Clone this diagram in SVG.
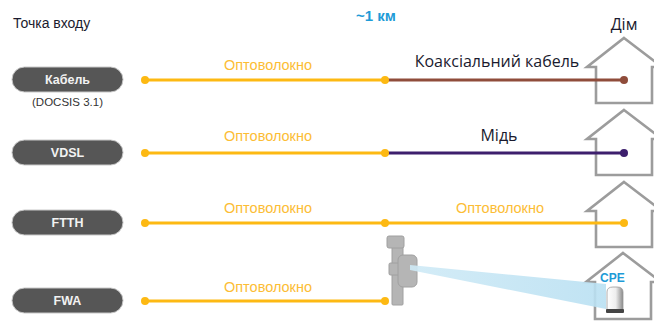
<svg xmlns="http://www.w3.org/2000/svg" width="654" height="323" viewBox="0 0 654 323">
  <defs>
    <style>
      .pill { fill: #565656; stroke: #c8c8c8; stroke-width: 1; }
      .pill-text { font-family: "Liberation Sans", Arial, sans-serif; font-size: 12.5px; font-weight: bold; fill: #f2f2f2; text-anchor: middle; }
      .label { font-family: "Liberation Sans", Arial, sans-serif; font-size: 14px; fill: #1a1a2e; }
      .wire-label { font-family: "Open Sans", "Liberation Sans", sans-serif; font-size: 16px; fill: #1a1a2e; text-anchor: middle; }
      .fiber-label { font-family: "Liberation Sans", Arial, sans-serif; font-size: 14.5px; fill: #fcbd35; text-anchor: middle; }
      .house { fill: #ffffff; stroke: #9c9c9c; stroke-width: 2.6; stroke-linejoin: miter; }
      .fiber { stroke: #fdb913; stroke-width: 3; fill: none; }
      .coax { stroke: #8f4c3b; stroke-width: 3; fill: none; }
      .copper { stroke: #3d1f6d; stroke-width: 3; fill: none; }
      .dot-fiber { fill: #fdb913; }
      .dot-coax { fill: #8f4c3b; }
      .dot-copper { fill: #3d1f6d; }
      .tower { fill: #b5b5b5; stroke: #a0a0a0; stroke-width: 1; }
    </style>
    <linearGradient id="beam" x1="0" y1="0" x2="1" y2="0">
      <stop offset="0" stop-color="#cfeaf6"/>
      <stop offset="1" stop-color="#b9e0f2"/>
    </linearGradient>
    <linearGradient id="cpeBody" x1="0" y1="0" x2="1" y2="0">
      <stop offset="0" stop-color="#ffffff"/>
      <stop offset="0.55" stop-color="#eeeeee"/>
      <stop offset="1" stop-color="#8a8a8a"/>
    </linearGradient>
  </defs>

  <rect width="654" height="323" fill="#ffffff"/>

  <!-- headings -->
  <g id="heading-entry">
    <text class="label" x="13" y="28">Точка входу</text>
  </g>
  <g id="heading-distance">
    <text x="356" y="21" font-family="Liberation Sans, Arial, sans-serif" font-size="15" font-weight="bold" fill="#1e9bd7">~1 км</text>
  </g>
  <g id="heading-home">
    <text class="wire-label" x="624" y="30">Дім</text>
  </g>

  <!-- houses -->
  <g id="house-cable">
    <path class="house" d="M624,38 L662,67 L652,67 L652,103 L596,103 L596,67 L587,67 Z"/>
  </g>
  <g id="house-vdsl">
    <path class="house" d="M624,110 L662,139 L652,139 L652,175 L596,175 L596,139 L587,139 Z"/>
  </g>
  <g id="house-ftth">
    <path class="house" d="M624,182 L662,211 L652,211 L652,247 L596,247 L596,211 L587,211 Z"/>
  </g>
  <g id="house-fwa">
    <path class="house" d="M623,253 L661,282 L651,282 L651,319 L595,319 L595,282 L586,282 Z"/>
  </g>

  <!-- access technology nodes -->
  <g id="node-cable">
    <rect class="pill" x="12" y="67" width="111" height="25" rx="12.5"/>
    <text class="pill-text" x="67.5" y="84">Кабель</text>
    <text x="67.5" y="106" font-family="Liberation Sans, Arial, sans-serif" font-size="11.5" fill="#333333" text-anchor="middle">(DOCSIS 3.1)</text>
  </g>
  <g id="node-vdsl">
    <rect class="pill" x="12" y="140" width="111" height="25" rx="12.5"/>
    <text class="pill-text" x="67.5" y="157">VDSL</text>
  </g>
  <g id="node-ftth">
    <rect class="pill" x="12" y="210" width="111" height="25" rx="12.5"/>
    <text class="pill-text" x="67.5" y="227">FTTH</text>
  </g>
  <g id="node-fwa">
    <rect class="pill" x="12" y="288" width="111" height="25" rx="12.5"/>
    <text class="pill-text" x="67.5" y="305">FWA</text>
  </g>

  <!-- connectors -->
  <g id="connectors">
    <!-- cable: fiber then coax -->
    <line class="fiber" x1="145" y1="80" x2="385" y2="80"/>
    <line class="coax" x1="385" y1="80" x2="624" y2="80"/>
    <circle class="dot-fiber" cx="145" cy="80" r="4"/>
    <circle class="dot-fiber" cx="385" cy="80" r="4"/>
    <circle class="dot-coax" cx="624" cy="80" r="4"/>

    <!-- vdsl: fiber then copper -->
    <line class="fiber" x1="145" y1="153" x2="385" y2="153"/>
    <line class="copper" x1="385" y1="153" x2="624" y2="153"/>
    <circle class="dot-fiber" cx="145" cy="153" r="4"/>
    <circle class="dot-fiber" cx="385" cy="153" r="4"/>
    <circle class="dot-copper" cx="624" cy="153" r="4"/>

    <!-- ftth: fiber all the way -->
    <line class="fiber" x1="145" y1="223" x2="624" y2="223"/>
    <circle class="dot-fiber" cx="145" cy="223" r="4"/>
    <circle class="dot-fiber" cx="385" cy="223" r="4"/>
    <circle class="dot-fiber" cx="624" cy="223" r="4"/>

    <!-- fwa: fiber to the radio site -->
    <line class="fiber" x1="145" y1="301" x2="385" y2="301"/>
    <circle class="dot-fiber" cx="145" cy="301" r="4"/>
    <circle class="dot-fiber" cx="385" cy="301" r="4"/>
  </g>

  <!-- connector labels -->
  <g id="connector-labels">
    <text class="fiber-label" x="268" y="70">Оптоволокно</text>
    <text class="wire-label" x="497" y="67">Коаксіальний кабель</text>
    <text class="fiber-label" x="268" y="141">Оптоволокно</text>
    <text class="wire-label" x="499" y="141">Мідь</text>
    <text class="fiber-label" x="268" y="213">Оптоволокно</text>
    <text class="fiber-label" x="500" y="213">Оптоволокно</text>
    <text class="fiber-label" x="268" y="292">Оптоволокно</text>
  </g>

  <!-- radio site -->
  <g id="radio-site">
    <rect class="tower" x="392" y="246" width="11" height="59" rx="1"/>
    <rect class="tower" x="387" y="236" width="17" height="12" rx="2"/>
    <rect class="tower" x="389" y="263" width="11" height="12" rx="1.5"/>
    <rect class="tower" x="398" y="255" width="19" height="32" rx="5"/>
  </g>

  <!-- wireless link -->
  <g id="wireless-beam">
    <polygon points="410,265 606,284 606,309 410,270" fill="url(#beam)" opacity="0.9"/>
  </g>

  <!-- customer premises equipment -->
  <g id="cpe">
    <text x="600" y="282" font-family="Liberation Sans, Arial, sans-serif" font-size="12" font-weight="bold" fill="#1e9bd7">CPE</text>
    <path d="M607,312 L607,292 Q607,287 613,287 L617,287 Q623,287 623,292 L623,312 Z" fill="url(#cpeBody)" stroke="#9a9a9a" stroke-width="0.8"/>
    <rect x="606" y="309" width="18" height="4" rx="1" fill="#444444"/>
  </g>
</svg>
